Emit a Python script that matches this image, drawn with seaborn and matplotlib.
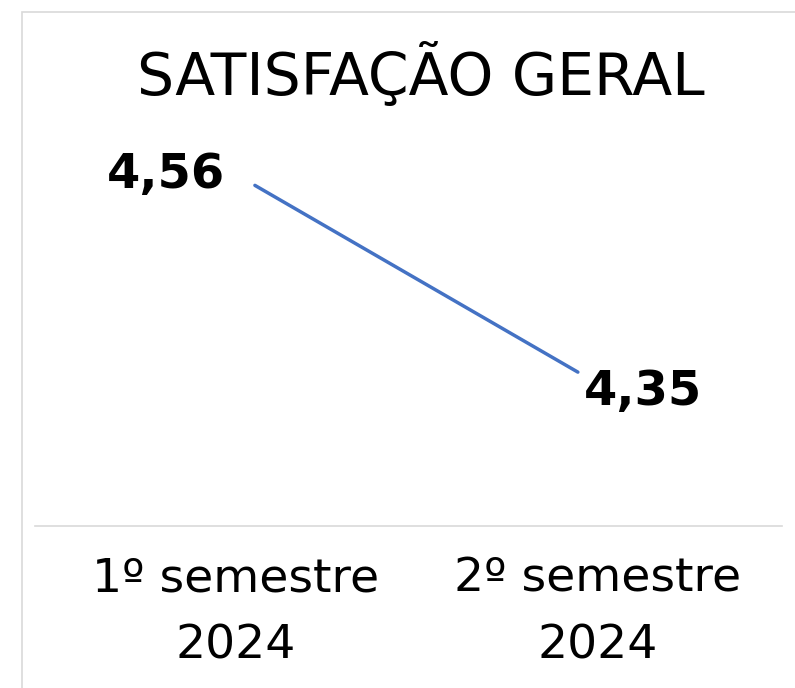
import matplotlib
matplotlib.use("Agg")
import matplotlib.pyplot as plt
import pandas as pd
import seaborn as sns
from matplotlib.patches import Rectangle

# data
semestres = ["1º semestre\n2024", "2º semestre\n2024"]
satisfacao = [4.56, 4.35]
rotulos = ["4,56", "4,35"]
titulo = "SATISFAÇÃO GERAL"


def main() -> None:
    sns.set_theme(style="white")
    plt.rcParams["font.family"] = ["DejaVu Sans"]

    df = pd.DataFrame({"pos": range(len(semestres)), "valor": satisfacao})

    fig = plt.figure(figsize=(7.95, 6.88), dpi=100)
    ax = fig.add_axes([0.044, 0.2355, 0.9396, 0.561])

    sns.lineplot(data=df, x="pos", y="valor", color="#4472C4", linewidth=2.5, ax=ax)

    ax.set_xlim(-0.681, 1.632)
    ax.set_ylim(4.177, 4.611)
    ax.set_xlabel("")
    ax.set_ylabel("")
    ax.set_yticks([])
    ax.set_xticks([-0.06, 1.06], labels=semestres)
    ax.tick_params(axis="x", length=0, pad=22, labelsize=34)
    for lbl in ax.get_xticklabels():
        lbl.set_linespacing(1.62)
        lbl.set_color("black")

    for side in ["top", "left", "right"]:
        ax.spines[side].set_visible(False)
    ax.spines["bottom"].set_color("#D9D9D9")
    ax.spines["bottom"].set_linewidth(1.2)

    offsets = [(-64, 8), (47, -14)]
    for i, (val, txt) in enumerate(zip(satisfacao, rotulos)):
        ax.annotate(txt, (i, val), xytext=offsets[i], textcoords="offset points",
                    ha="center", va="center", fontsize=34.5, fontweight="bold",
                    color="black", annotation_clip=False)

    fig.text(421 / 795, 1 - 75 / 688, titulo, ha="center", va="center",
             fontsize=42, color="black")

    fig.patches.append(Rectangle((22 / 795, -0.1), 1.2, 1 - 12 / 688 + 0.1,
                                 transform=fig.transFigure, fill=False,
                                 edgecolor="#D9D9D9", linewidth=1.2))

    fig.savefig("out.png", dpi=100)
    plt.close(fig)


if __name__ == "__main__":
    main()
